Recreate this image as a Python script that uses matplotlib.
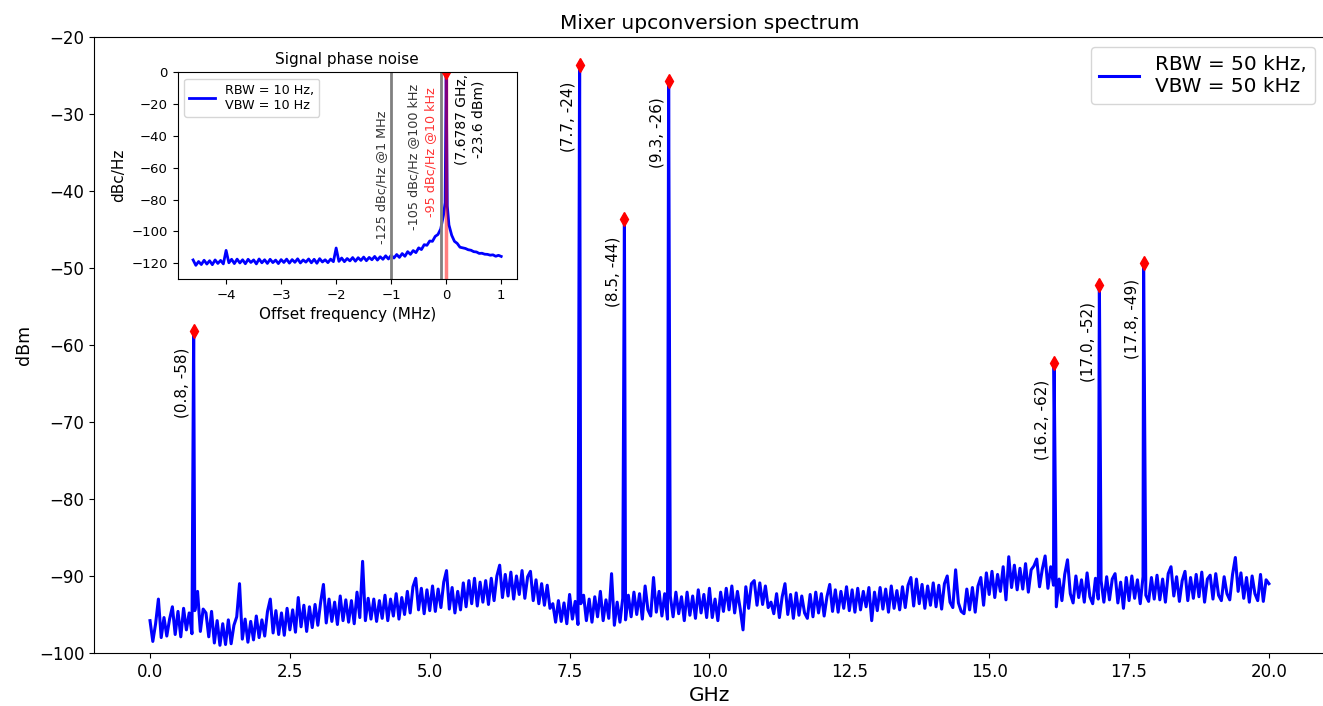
import numpy as np
import matplotlib.pyplot as plt

# Spectrum noise floor, every 0.05 GHz (0 .. 20 GHz)
floor_level = [
    -95.8, -98.5, -96.2, -93.0, -98.0, -95.4, -97.8, -95.6, -94.0, -97.6, -94.6, -97.9, -94.2, -97.0, -94.8, -97.5, -94.5, -92.0, -97.2, -94.3,
    -94.8, -97.9, -94.6, -98.7, -95.8, -99.0, -96.2, -98.9, -95.7, -98.8, -96.4, -95.3, -91.0, -98.2, -95.6, -98.6, -95.9, -98.3, -95.2, -98.0,
    -95.7, -97.8, -94.6, -93.0, -97.4, -94.5, -97.6, -94.8, -97.7, -94.2, -97.0, -94.4, -97.3, -92.8, -96.6, -93.8, -97.2, -94.0, -96.7, -93.7,
    -96.4, -93.4, -91.1, -96.1, -93.0, -95.9, -93.4, -96.3, -92.6, -95.8, -93.1, -96.0, -93.2, -96.2, -92.1, -95.4, -88.1, -95.8, -92.9, -95.6,
    -93.0, -95.9, -93.2, -95.5, -92.5, -95.8, -93.0, -95.2, -92.3, -95.6, -92.8, -95.0, -92.0, -94.8, -91.4, -90.3, -94.4, -91.6, -94.9, -91.8,
    -94.5, -91.3, -94.6, -91.7, -94.1, -90.8, -89.3, -94.3, -91.5, -94.8, -92.0, -94.4, -90.9, -94.0, -90.6, -93.6, -90.3, -93.9, -90.8, -93.4,
    -90.6, -93.7, -90.3, -93.2, -90.0, -88.6, -92.8, -89.8, -92.6, -89.5, -93.0, -90.0, -92.4, -89.3, -92.9, -90.1, -89.4, -93.2, -90.5, -93.6,
    -91.0, -93.8, -91.2, -94.2, -93.6, -96.0, -93.2, -95.9, -93.5, -96.2, -92.4, -95.6, -93.3, -96.3, -93.6, -92.5, -95.8, -93.0, -96.0, -92.7,
    -95.3, -92.0, -95.8, -93.1, -95.5, -89.7, -96.4, -93.4, -96.0, -92.9, -95.7, -92.5, -95.3, -92.1, -95.0, -92.3, -95.6, -91.3, -94.4, -95.2,
    -90.2, -94.7, -92.0, -95.2, -92.3, -95.6, -92.6, -95.3, -92.1, -94.9, -92.7, -95.8, -92.1, -95.1, -92.6, -95.5, -91.8, -94.8, -92.4, -95.4,
    -91.6, -95.4, -93.0, -95.8, -92.1, -94.6, -91.6, -94.4, -91.3, -94.8, -92.0, -94.3, -97.0, -91.4, -94.2, -91.0, -90.6, -93.8, -90.9, -93.7,
    -91.3, -94.1, -93.4, -94.9, -92.3, -95.4, -92.7, -91.0, -95.0, -92.4, -95.5, -92.2, -95.1, -92.6, -94.8, -95.5, -92.4, -95.3, -92.1, -94.8,
    -92.3, -95.2, -92.7, -91.1, -94.6, -91.8, -94.7, -92.0, -94.2, -91.4, -94.5, -91.8, -94.7, -91.6, -94.4, -92.0, -94.0, -91.5, -95.8, -92.1,
    -94.5, -91.5, -94.3, -91.7, -94.7, -91.3, -94.2, -91.9, -94.4, -91.4, -94.1, -91.2, -90.2, -93.9, -90.4, -93.6, -91.1, -94.2, -91.3, -93.8,
    -90.9, -94.0, -91.2, -94.3, -91.0, -90.0, -93.4, -94.1, -89.2, -93.5, -94.6, -94.9, -91.7, -94.4, -91.5, -94.7, -91.3, -90.2, -93.8, -89.6,
    -92.4, -89.4, -92.8, -89.8, -92.0, -88.8, -93.1, -87.5, -91.5, -88.6, -91.8, -89.0, -91.7, -88.4, -92.1, -89.2, -88.7, -87.8, -91.4, -89.1,
    -87.4, -91.6, -88.8, -91.2, -94.0, -90.4, -93.2, -89.8, -87.9, -92.3, -93.5, -90.0, -92.8, -90.5, -93.4, -89.6, -92.7, -93.6, -90.3, -93.0,
    -90.6, -93.4, -90.1, -93.1, -90.4, -89.7, -93.5, -90.8, -94.2, -90.2, -93.2, -90.0, -92.9, -90.5, -93.6, -90.1, -92.5, -93.3, -90.2, -93.0,
    -89.9, -93.1, -90.4, -93.4, -89.7, -88.8, -92.6, -90.1, -93.3, -90.6, -89.4, -93.2, -90.2, -92.9, -89.8, -92.7, -89.5, -93.4, -90.4, -89.9,
    -93.0, -89.7, -92.5, -93.2, -90.1, -92.3, -93.1, -89.8, -87.6, -92.0, -89.6, -92.9, -90.2, -93.4, -90.0, -92.3, -93.2, -89.8, -93.3, -90.5,
    -91.0,
]
floor_freq = np.linspace(0, 20, len(floor_level))

# mixer products (GHz, dBm)
peak_freq = [0.78, 7.6787, 8.48, 9.27, 16.16, 16.97, 17.76]
peak_level = [-58.2, -23.6, -43.7, -25.7, -62.3, -52.2, -49.3]

# phase noise around the carrier (MHz offset, dBc/Hz)
pn_level = [
    -118.0, -121.4, -119.0, -120.9, -118.2, -120.6, -118.5, -121.0, -118.0, -120.2, -118.3, -120.5, -112.0,
    -119.8, -117.6, -120.3, -117.5, -119.9, -117.9, -120.4, -117.6, -119.6, -118.0, -120.5, -117.4, -119.8, -117.9, -120.2, -117.6, -119.7, -118.1, -120.3, -117.8,
    -119.6, -117.5, -120.0, -117.8, -119.5, -117.3, -119.9, -118.0, -119.4, -117.4, -119.8, -117.6, -120.1, -117.2, -119.3, -117.9, -119.7, -117.5, -119.1, -110.5,
    -118.9, -116.8, -119.1, -117.1, -118.6, -116.5, -118.8, -116.6, -118.3, -116.2, -118.5, -116.4, -117.9, -115.8, -118.1, -116.0, -117.6, -115.4, -117.4, -115.1,
    -116.8, -114.6, -116.4, -114.0, -115.7, -112.8, -114.5, -112.1, -113.4, -110.4, -111.5, -108.4, -108.8, -106.1, -106.3, -103.2, -102.0, -98.5, -90.0,
    -82.0, 0.0, -84.0,
    -96.0, -102.5, -106.3, -107.6, -110.0, -110.4, -110.8, -111.6, -111.9, -112.8, -113.0, -113.9, -113.8, -114.4, -114.5, -115.0, -114.8, -115.7, -115.1, -115.8,
]
pn_offset = np.concatenate([np.linspace(-4.60, -0.05, 92), [-0.02, 0.0, 0.02], np.linspace(0.05, 1.0, 20)])

pn_marks = [-1.0, -0.1]
pn_labels = ['-125 dBc/Hz @1 MHz', '-105 dBc/Hz @100 kHz']

fig = plt.figure(figsize=(13.23, 7.06), dpi=100)
ax = fig.add_axes([0.0711, 0.0751, 0.9303, 0.8725])

freq = np.concatenate([floor_freq, peak_freq])
lvl = np.concatenate([floor_level, peak_level])
order = np.argsort(freq)
ax.plot(freq[order], lvl[order], color='blue', lw=2.2, label='RBW = 50 kHz,\nVBW = 50 kHz')
ax.plot(peak_freq, peak_level, 'rd', ms=7)
for f, l in zip(peak_freq, peak_level):
    ax.annotate(f"({f:.1f}, {l:.0f})", (f, l), xytext=(-3, -12), textcoords='offset points',
                rotation=90, ha='right', va='top', fontsize=11)

ax.set_ylim(-100, -20)
ax.set_yticks(np.arange(-100, -19, 10))
ax.tick_params(labelsize=12)
ax.set_title('Mixer upconversion spectrum', fontsize=14.5)
ax.set_xlabel('GHz', fontsize=14.5)
ax.set_ylabel('dBm', fontsize=12.5)
ax.legend(loc='upper right', fontsize=14.4)

# inset with the phase noise of the main product
ins = fig.add_axes([0.1343, 0.6048, 0.2562, 0.2928])
ins.plot(pn_offset, pn_level, color='blue', lw=2, label='RBW = 10 Hz,\nVBW = 10 Hz')
for m in pn_marks:
    ins.axvline(m, color='gray', lw=2)
ins.axvline(-0.01, color='red', lw=2.5, alpha=0.5)
ins.plot([0.0], [0.0], 'rd', ms=7)
ins.text(-1.17, -108, pn_labels[0], rotation=90, ha='center', va='bottom', fontsize=9.2, color='#333333')
ins.text(-0.6, -99, pn_labels[1], rotation=90, ha='center', va='bottom', fontsize=9.2, color='#333333')
ins.text(-0.29, -91, '-95 dBc/Hz @10 kHz', rotation=90, ha='center', va='bottom', fontsize=9.2, color='#ff3333')
ins.text(0.16, -1, '(7.6787 GHz,\n-23.6 dBm)', rotation=90, ha='left', va='top',
         multialignment='center', fontsize=10)
ins.set_ylim(-130, 0)
ins.set_yticks(np.arange(-120, 1, 20))
ins.tick_params(labelsize=9.5)
ins.set_title('Signal phase noise', fontsize=11)
ins.set_xlabel('Offset frequency (MHz)', fontsize=11)
ins.set_ylabel('dBc/Hz', fontsize=11)
ins.legend(loc='upper left', fontsize=9.2)

fig.savefig('out.png', dpi=100)
